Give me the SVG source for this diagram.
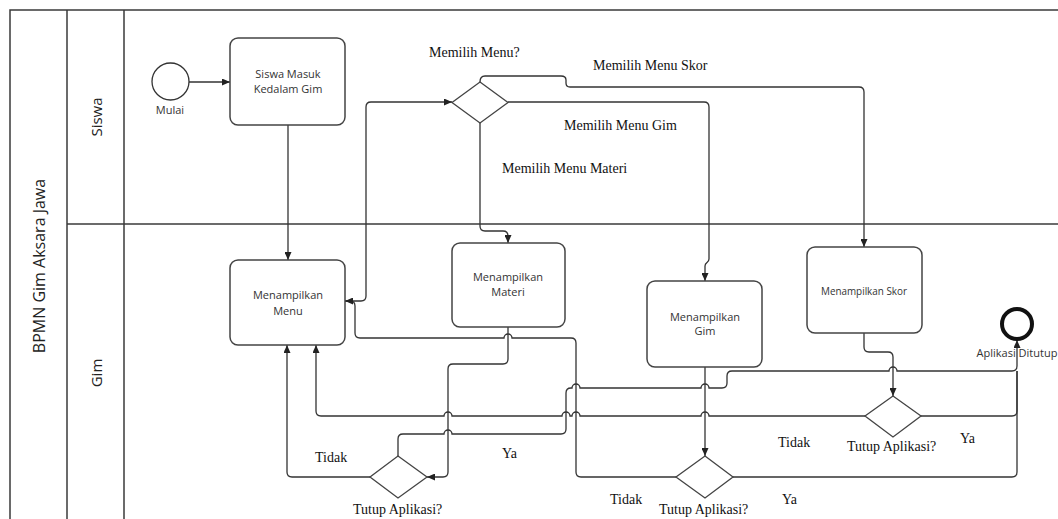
<svg xmlns="http://www.w3.org/2000/svg" width="1058" height="519" viewBox="0 0 1058 519">
  <style>
    .lane { stroke: #3a3a3a; stroke-width: 1.5; fill: none; }
    .task { fill: #ffffff; stroke: #444444; stroke-width: 1.5; }
    .gw { fill: #ffffff; stroke: #444444; stroke-width: 1.3; }
    .conn { fill: none; stroke: #333333; stroke-width: 1.3; }
    .tt { font-family: "Open Sans", "Liberation Sans", sans-serif; font-size: 11px; fill: #333333; text-anchor: middle; }
    .lbl { font-family: "Liberation Serif", "Times New Roman", serif; font-size: 14px; fill: #111111; }
    .lanelbl { font-family: "Open Sans", "Liberation Sans", sans-serif; fill: #222222; text-anchor: middle; }
  </style>
  <defs>
    <marker id="arrow" viewBox="0 0 8 7" refX="8" refY="3.5" markerWidth="8" markerHeight="7" markerUnits="userSpaceOnUse" orient="auto">
      <path d="M0,0 L8,3.5 L0,7 z" fill="#222222"/>
    </marker>
  </defs>

  <rect width="1058" height="519" fill="#ffffff"/>

  <!-- pool and lanes -->
  <g id="pool">
    <path class="lane" d="M10,519 V10 H1058"/>
    <line class="lane" x1="67" y1="10" x2="67" y2="519"/>
    <line class="lane" x1="124" y1="10" x2="124" y2="519"/>
    <line class="lane" x1="67" y1="224" x2="1058" y2="224"/>
    <text class="lanelbl" font-size="16" transform="translate(45,266) rotate(-90)">BPMN Gim Aksara Jawa</text>
    <text class="lanelbl" font-size="15" transform="translate(102,117) rotate(-90)">Siswa</text>
    <text class="lanelbl" font-size="15" transform="translate(102,373) rotate(-90)">Gim</text>
  </g>

  <!-- sequence flows -->
  <g id="connectors">
    <path class="conn" marker-end="url(#arrow)" d="M189,82 H230"/>
    <path class="conn" marker-end="url(#arrow)" d="M288,125 V260"/>
    <!-- menu to choice -->
    <path class="conn" marker-end="url(#arrow)" d="M345,301 H361 Q366,301 366,296 V107 Q366,102 371,102 H452"/>
    <!-- choice branches -->
    <path class="conn" marker-end="url(#arrow)" d="M480,82 Q480,76 485,76 H561 Q566,76 566,80 V83 Q566,87 570,87 H859 Q864,87 864,92 V247"/>
    <path class="conn" marker-end="url(#arrow)" d="M508,102 H704 Q709,102 709,107 V259 C709,263 705,262 705,266 V281"/>
    <path class="conn" marker-end="url(#arrow)" d="M480,123 V226 Q480,231 485,231 H503 Q508,231 508,236 V243"/>
    <!-- materi to close check -->
    <path class="conn" marker-end="url(#arrow)" d="M508,327 V359 Q508,364 503,364 H453 Q448,364 448,369 V472 Q448,477 443,477 H427"/>
    <path class="conn" marker-end="url(#arrow)" d="M370,477 H292 Q287,477 287,472 V345"/>
    <path class="conn" marker-end="url(#arrow)" d="M398,456 V439 Q398,434 403,434 H444 a4,4 0 0 1 8,0 H561 Q566,434 566,429 V393 Q566,388 571,388 H572 a4,4 0 0 1 8,0 H701 a4,4 0 0 1 8,0 H722 Q727,388 727,383 V376 Q727,371 732,371 H889 a4,4 0 0 1 8,0 H1012 Q1017,371 1017,366 V340"/>
    <!-- gim to close check -->
    <path class="conn" marker-end="url(#arrow)" d="M705,367 V456"/>
    <path class="conn" marker-end="url(#arrow)" d="M676,477 H581 Q576,477 576,472 V343 Q576,338 571,338 H512 a4,4 0 0 0 -8,0 H360 Q355,338 355,333 V306 Q355,301 350,301 H345"/>
    <path class="conn" d="M733,477 H1012 Q1017,477 1017,472 V371"/>
    <!-- skor to close check -->
    <path class="conn" marker-end="url(#arrow)" d="M864,333 V347 Q864,352 869,352 H888 Q893,352 893,357 V396"/>
    <path class="conn" marker-end="url(#arrow)" d="M865,416 H709 a4,4 0 0 0 -8,0 H580 a4,4 0 0 0 -8,0 H570 a4,4 0 0 0 -8,0 H452 a4,4 0 0 0 -8,0 H321 Q316,416 316,411 V345"/>
    <path class="conn" d="M921,416 H1012 Q1017,416 1017,411 V371"/>
  </g>

  <!-- flow labels -->
  <g id="flow-labels">
    <text class="lbl" x="429" y="57">Memilih Menu?</text>
    <text class="lbl" x="593" y="70">Memilih Menu Skor</text>
    <text class="lbl" x="564" y="130">Memilih Menu Gim</text>
    <text class="lbl" x="502" y="173">Memilih Menu Materi</text>
    <text class="lbl" x="315" y="462">Tidak</text>
    <text class="lbl" x="502" y="458">Ya</text>
    <text class="lbl" x="353" y="514">Tutup Aplikasi?</text>
    <text class="lbl" x="610" y="504">Tidak</text>
    <text class="lbl" x="659" y="514">Tutup Aplikasi?</text>
    <text class="lbl" x="782" y="504">Ya</text>
    <text class="lbl" x="778" y="447">Tidak</text>
    <text class="lbl" x="847" y="451">Tutup Aplikasi?</text>
    <text class="lbl" x="960" y="443">Ya</text>
  </g>

  <!-- events -->
  <g id="start">
    <circle cx="170.5" cy="81.5" r="18.5" fill="#ffffff" stroke="#333333" stroke-width="1.3"/>
    <text class="tt" x="170" y="114">Mulai</text>
  </g>
  <g id="end">
    <circle cx="1017" cy="324" r="15" fill="#ffffff" stroke="#111111" stroke-width="4"/>
    <text class="tt" x="1017" y="357">Aplikasi Ditutup</text>
  </g>

  <!-- tasks -->
  <g id="task-masuk">
    <rect class="task" x="230" y="38" width="115" height="87" rx="8"/>
    <text class="tt" x="288" y="78">Siswa Masuk</text>
    <text class="tt" x="288" y="93">Kedalam Gim</text>
  </g>
  <g id="task-menu">
    <rect class="task" x="230" y="260" width="115" height="85" rx="8"/>
    <text class="tt" x="288" y="299">Menampilkan</text>
    <text class="tt" x="288" y="315">Menu</text>
  </g>
  <g id="task-materi">
    <rect class="task" x="452" y="243" width="113" height="84" rx="8"/>
    <text class="tt" x="508" y="281">Menampilkan</text>
    <text class="tt" x="508" y="296">Materi</text>
  </g>
  <g id="task-gim">
    <rect class="task" x="647" y="281" width="115" height="86" rx="8"/>
    <text class="tt" x="705" y="321">Menampilkan</text>
    <text class="tt" x="705" y="335">Gim</text>
  </g>
  <g id="task-skor">
    <rect class="task" x="807" y="247" width="115" height="86" rx="8"/>
    <text class="tt" x="864" y="295" textLength="86" lengthAdjust="spacingAndGlyphs">Menampilkan Skor</text>
  </g>

  <!-- gateways -->
  <g id="gw-menu">
    <polygon class="gw" points="480,82 508,102.5 480,123 452,102.5"/>
  </g>
  <g id="gw-tutup-materi">
    <polygon class="gw" points="398,456 427,477 398,498 370,477"/>
  </g>
  <g id="gw-tutup-gim">
    <polygon class="gw" points="705,456 733,477 705,498 676,477"/>
  </g>
  <g id="gw-tutup-skor">
    <polygon class="gw" points="893,396 921,416 893,437 865,416"/>
  </g>
</svg>
